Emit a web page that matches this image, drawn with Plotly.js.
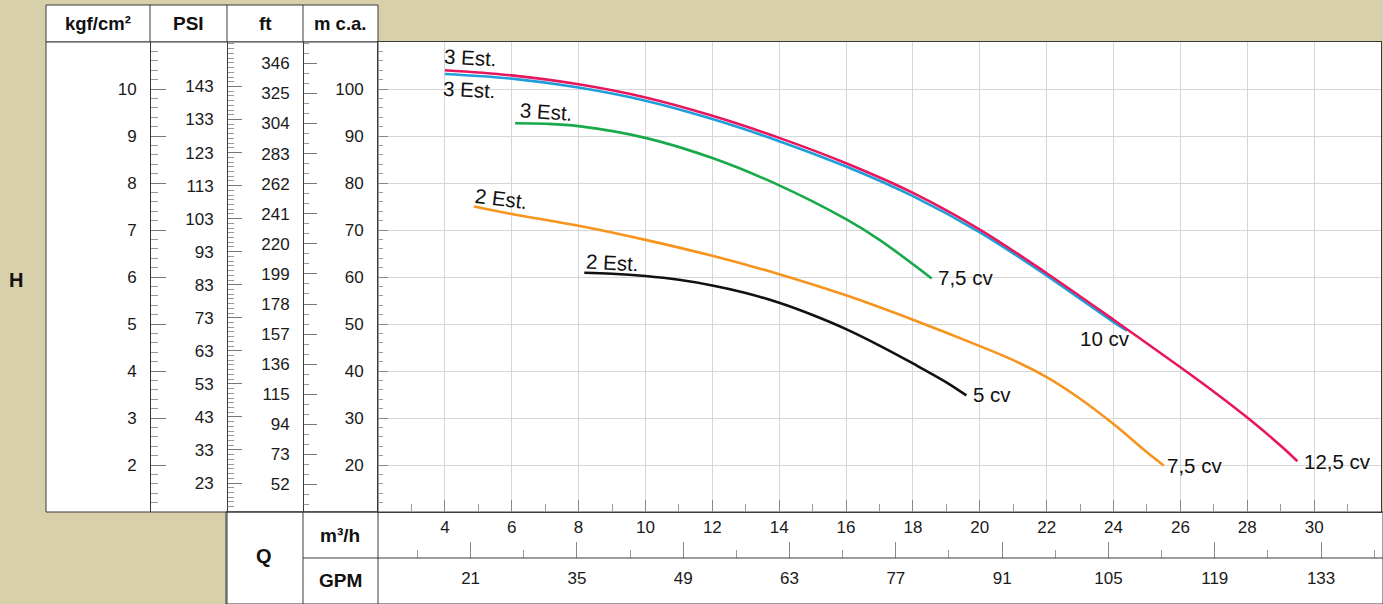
<!DOCTYPE html>
<html>
<head>
<meta charset="utf-8">
<script src="https://cdn.plot.ly/plotly-3.0.1.min.js"></script>
<style>html,body{margin:0;padding:0;background:#d8d0ab;}#chart{width:1383px;height:604px;}</style>
</head>
<body>
<div id="chart"></div>
<script>
// ---- data (m³/h vs m c.a.) ----
const q125 = [4, 6, 8, 10, 12, 14, 16, 18, 20, 22, 24, 26, 27, 28, 29, 29.5];
const h125 = [104, 102.9, 101, 98.2, 94.3, 89.6, 84.2, 77.9, 70.1, 60.8, 50.9, 40.8, 35.6, 30.1, 24.1, 20.8];
const q10 = [4, 6, 8, 10, 12, 14, 16, 18, 20, 22, 24, 24.4];
const h10 = [103.2, 102.2, 100.3, 97.5, 93.6, 88.9, 83.5, 77.2, 69.5, 60.3, 50.4, 48.6];
const q75a = [6.1, 7, 8, 10, 12, 14, 16, 17, 18.56];
const h75a = [92.7, 92.6, 92.1, 89.6, 85.3, 79.5, 72.3, 67.9, 59.7];
const q75b = [4.87, 6, 8, 10, 12, 14, 16, 18, 20, 21, 22, 23, 24, 25, 25.5];
const h75b = [75, 73.4, 70.9, 67.9, 64.5, 60.6, 56.1, 50.9, 45.3, 42.3, 38.7, 34.1, 28.7, 22.7, 19.9];
const q5 = [8.17, 9, 10, 11, 12, 13, 14, 15, 16, 17, 18, 19, 19.6];
const h5 = [60.9, 60.7, 60.2, 59.4, 58.2, 56.6, 54.5, 51.9, 48.9, 45.4, 41.6, 37.6, 34.8];

// ---- tick labels ----
const kgfTicks = [2, 3, 4, 5, 6, 7, 8, 9, 10];
const psiTicks = [23, 33, 43, 53, 63, 73, 83, 93, 103, 113, 123, 133, 143];
const ftTicks = [52, 73, 94, 115, 136, 157, 178, 199, 220, 241, 262, 283, 304, 325, 346];
const mTicks = [20, 30, 40, 50, 60, 70, 80, 90, 100];
const m3hTicks = [4, 6, 8, 10, 12, 14, 16, 18, 20, 22, 24, 26, 28, 30];
const gpmTicks = [21, 35, 49, 63, 77, 91, 105, 119, 133];

// ---- label texts ----
const stageLabels = ['3 Est.', '3 Est.', '3 Est.', '2 Est.', '2 Est.'];
const powerLabels = ['12,5 cv', '10 cv', '7,5 cv', '7,5 cv', '5 cv'];

// unit conversions
const M_PER_PSI = 0.70307, M_PER_FT = 0.3048, M3H_PER_GPM = 0.2271247;
const H_RANGE = [10, 110], Q_RANGE = [2, 32];

const W = 1383, H = 604;
const px = v => v / W, py = v => 1 - v / H;
const FONT = 'Liberation Sans, Arial, Helvetica, sans-serif';
const LINE = '#3a3a3a';

const traces = [
  {x: q5, y: h5, color: '#111111'},
  {x: q75b, y: h75b, color: '#f7941d'},
  {x: q75a, y: h75a, color: '#18a94b'},
  {x: q10, y: h10, color: '#1e9fdc'},
  {x: q125, y: h125, color: '#e8175d'}
].map(t => ({x: t.x, y: t.y, type: 'scatter', mode: 'lines', xaxis: 'x', yaxis: 'y',
  line: {color: t.color, width: 2.6, shape: 'spline', smoothing: 1}, hoverinfo: 'skip', showlegend: false}));

// invisible anchors so the secondary axes are drawn
traces.push({x: [], y: [], xaxis: 'x', yaxis: 'y2', type: 'scatter', showlegend: false});
traces.push({x: [], y: [], xaxis: 'x', yaxis: 'y3', type: 'scatter', showlegend: false});
traces.push({x: [], y: [], xaxis: 'x', yaxis: 'y4', type: 'scatter', showlegend: false});
traces.push({x: [], y: [], xaxis: 'x2', yaxis: 'y', type: 'scatter', showlegend: false});

const tickFont = {family: FONT, size: 17, color: '#1a1a1a'};
const domY = [py(512), py(42)];
function sideAxis(pos, range, vals, minorDtick, minorTick0, majLen, minLen) {
  return {
    anchor: 'free', overlaying: 'y', side: 'left', position: pos, domain: domY,
    range: range, tickmode: 'array', tickvals: vals, ticktext: vals.map(String),
    ticks: 'inside', ticklen: majLen, tickwidth: 1, tickcolor: '#777',
    minor: {ticks: 'inside', ticklen: minLen, tickcolor: '#999', tickwidth: 1, dtick: minorDtick, tick0: minorTick0, showgrid: false},
    showline: true, linecolor: LINE, linewidth: 1, showgrid: false, zeroline: false,
    tickfont: tickFont, ticklabelstandoff: 10, fixedrange: true
  };
}

const layout = {
  width: W, height: H,
  margin: {l: 0, r: 0, t: 0, b: 0, pad: 0},
  paper_bgcolor: '#d8d0ab', plot_bgcolor: '#ffffff',
  showlegend: false,
  xaxis: {
    domain: [px(378), px(1381)], range: Q_RANGE, anchor: 'y',
    tickmode: 'array', tickvals: m3hTicks, ticktext: m3hTicks.map(String),
    ticks: 'inside', ticklen: 12, tickcolor: '#888', tickwidth: 1,
    minor: {ticks: 'inside', ticklen: 8, tickcolor: '#999', dtick: 1, tick0: 0, showgrid: false},
    showgrid: true, gridcolor: '#d6d6d6', gridwidth: 1, zeroline: false,
    showline: true, mirror: true, linecolor: LINE, linewidth: 1,
    tickfont: tickFont, ticklabelstandoff: 0, fixedrange: true
  },
  xaxis2: {
    domain: [px(378), px(1381)], overlaying: 'x', anchor: 'free', position: py(558), side: 'bottom',
    range: [Q_RANGE[0] / M3H_PER_GPM, Q_RANGE[1] / M3H_PER_GPM],
    tickmode: 'array', tickvals: gpmTicks, ticktext: gpmTicks.map(String),
    ticks: 'inside', ticklen: 16, tickcolor: '#888', tickwidth: 1,
    minor: {ticks: 'inside', ticklen: 8, tickcolor: '#999', dtick: 7, tick0: 0, showgrid: false},
    showgrid: false, zeroline: false, showline: false,
    tickfont: tickFont, ticklabelstandoff: 8, fixedrange: true
  },
  yaxis: {
    domain: domY, range: H_RANGE, anchor: 'x', side: 'left',
    tickmode: 'array', tickvals: mTicks, ticktext: mTicks.map(String),
    ticks: 'inside', ticklen: 10, tickcolor: '#888', tickwidth: 1,
    minor: {ticks: 'inside', ticklen: 5, tickcolor: '#999', dtick: 2, tick0: 0, showgrid: false},
    showgrid: true, gridcolor: '#d6d6d6', gridwidth: 1, zeroline: false,
    showline: true, mirror: true, linecolor: LINE, linewidth: 1,
    tickfont: tickFont, ticklabelstandoff: 10, fixedrange: true
  },
  yaxis2: sideAxis(px(303), [H_RANGE[0] / M_PER_FT, H_RANGE[1] / M_PER_FT], ftTicks, 7, 52, 13, 5),
  yaxis3: sideAxis(px(227), [H_RANGE[0] / M_PER_PSI, H_RANGE[1] / M_PER_PSI], psiTicks, 10 / 7, 23, 14, 6),
  yaxis4: sideAxis(px(150), [H_RANGE[0] / 10, H_RANGE[1] / 10], kgfTicks, 0.2, 0, 15, 7),
  shapes: [],
  annotations: []
};

const S = layout.shapes;
function rect(x0, y0, x1, y1, fill) {
  S.push({type: 'rect', xref: 'paper', yref: 'paper', x0: px(x0), x1: px(x1), y0: py(y1), y1: py(y0),
    fillcolor: fill, line: {color: LINE, width: 1}, layer: 'below'});
}
function seg(x0, y0, x1, y1) {
  S.push({type: 'line', xref: 'paper', yref: 'paper', x0: px(x0), x1: px(x1), y0: py(y0), y1: py(y1),
    line: {color: LINE, width: 1}, layer: 'above'});
}
rect(46, 5, 378, 42, '#ffffff');     // header row
rect(46, 42, 378, 512, '#ffffff');   // left scale panel
rect(226, 512, 1383, 604, '#ffffff'); // bottom scale panel
seg(150, 5, 150, 42); seg(227, 5, 227, 42); seg(303, 5, 303, 42);
seg(227, 512, 227, 604); seg(303, 512, 303, 604); seg(378, 512, 378, 604);
seg(303, 558, 1383, 558);
seg(226, 512, 378, 512);

const A = layout.annotations;
function ptxt(text, x, y, size, bold) {
  A.push({xref: 'paper', yref: 'paper', x: px(x), y: py(y), xanchor: 'center', yanchor: 'middle',
    text: bold ? '<b>' + text + '</b>' : text, showarrow: false,
    font: {family: FONT, size: size, color: '#111'}});
}
ptxt('kgf/cm²', 98, 23, 18.5, true);
ptxt('PSI', 188, 23, 19, true);
ptxt('ft', 265, 23, 19, true);
ptxt('m c.a.', 340, 23, 18.5, true);
ptxt('H', 16, 280, 20, true);
ptxt('Q', 264, 556, 20, true);
ptxt('m³/h', 340, 535, 19, true);
ptxt('GPM', 340, 580, 19, true);

function dtxt(text, x, y, ang) {
  A.push({xref: 'x', yref: 'y', x: x, y: y, xanchor: 'left', yanchor: 'middle', text: text,
    showarrow: false, textangle: ang || 0, font: {family: FONT, size: 20.5, color: '#111'}});
}
dtxt(stageLabels[0], 3.9, 106.6, 3);
dtxt(stageLabels[1], 3.85, 99.8, 3);
dtxt(stageLabels[2], 6.15, 95.3, 4);
dtxt(stageLabels[3], 4.8, 76.8, 7);
dtxt(stageLabels[4], 8.15, 63, 3);
dtxt(powerLabels[0], 29.65, 20.7);
dtxt(powerLabels[1], 22.95, 46.9);
dtxt(powerLabels[2], 18.68, 59.8);
dtxt(powerLabels[3], 25.55, 19.9);
dtxt(powerLabels[4], 19.75, 35);

Plotly.newPlot('chart', traces, layout, {displayModeBar: false, staticPlot: true});
</script>
</body>
</html>
